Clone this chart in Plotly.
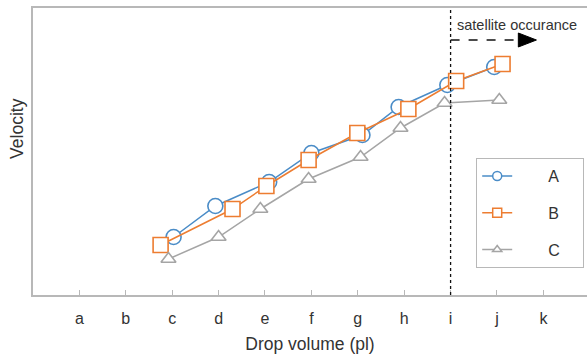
import plotly.graph_objects as go

# ---- data ----
tick_labels = ["a", "b", "c", "d", "e", "f", "g", "h", "i", "j", "k"]
tick_pos = list(range(len(tick_labels)))

a_x = [2.03, 2.93, 4.09, 5.00, 6.10, 6.88, 7.93, 8.94]
a_y = [58, 89, 113, 142, 160, 188, 210, 228]

b_x = [1.75, 3.30, 4.03, 4.94, 5.99, 7.09, 8.12, 9.12]
b_y = [50, 86, 109, 135, 162, 186, 214, 231]

c_x = [1.92, 3.00, 3.90, 4.94, 6.06, 6.92, 7.87, 9.05]
c_y = [36, 58, 86, 116, 138, 167, 192, 195]

satellite_x = 8          # category "i"
arrow_end_x = 9.46
arrow_tip_x = 9.85
arrow_y = 255
y_max = 287

BLUE = "#4A8CC7"
ORANGE = "#ED7D31"
GRAY = "#A5A5A5"
FRAME = "#B8B8B8"
TXT = "#333333"
FONT = "Liberation Sans, Arial, sans-serif"

fig = go.Figure()
series = [
    ("A", a_x, a_y, BLUE, "circle", 15, 9),
    ("B", b_x, b_y, ORANGE, "square", 15, 9),
    ("C", c_x, c_y, GRAY, "triangle-up", 13, 8),
]
NB = "\u00a0"
for name, xs, ys, col, sym, sz, lsz in series:
    fig.add_trace(go.Scatter(
        x=xs, y=ys, name=name, mode="lines+markers",
        legendgroup=name, showlegend=False,
        line=dict(color=col, width=1.5),
        marker=dict(symbol=sym, size=sz, color="white",
                    line=dict(color=col, width=1.6)),
    ))
    # legend entry with small marker (no visible data)
    fig.add_trace(go.Scatter(
        x=[None], y=[None], name=NB * 7 + name + NB * 4, mode="lines+markers",
        legendgroup=name, showlegend=True,
        line=dict(color=col, width=1.5),
        marker=dict(symbol=sym, size=lsz, color="white",
                    line=dict(color=col, width=1.5)),
    ))

# vertical dotted threshold line
fig.add_shape(type="line", xref="x", yref="paper",
              x0=satellite_x, x1=satellite_x, y0=0, y1=1,
              line=dict(color="#111111", width=1.3, dash="dot"))
# dashed arrow shaft
fig.add_shape(type="line", xref="x", yref="y",
              x0=satellite_x, x1=arrow_end_x, y0=arrow_y, y1=arrow_y,
              line=dict(color="#111111", width=1.6, dash="dash"))
# arrow head
fig.add_shape(type="path", xref="x", yref="y",
              path=f"M {arrow_end_x},{arrow_y - 7} L {arrow_tip_x},{arrow_y} "
                   f"L {arrow_end_x},{arrow_y + 7} Z",
              fillcolor="#000000", line=dict(color="#000000", width=1))

fig.add_annotation(x=9.44, y=arrow_y + 15,
                   xref="x", yref="y", text="satellite occurance",
                   showarrow=False, xanchor="center", yanchor="middle",
                   font=dict(size=14.5, color=TXT, family=FONT))

fig.add_annotation(x=-0.029, y=0.582, xref="paper", yref="paper",
                   text="Velocity", textangle=-90, showarrow=False,
                   xanchor="center", yanchor="middle",
                   font=dict(size=17.5, color=TXT, family=FONT))

fig.update_layout(
    width=587, height=358,
    margin=dict(l=33, r=0, t=8, b=63),
    plot_bgcolor="white", paper_bgcolor="white",
    font=dict(family=FONT, color=TXT),
    showlegend=True,
    legend=dict(x=0.80, y=0.477, xanchor="left", yanchor="top",
                bgcolor="white", bordercolor=FRAME, borderwidth=1,
                font=dict(size=16, color=TXT, family=FONT),
                tracegroupgap=13, traceorder="grouped"),
    xaxis=dict(
        range=[-1, 10.94], tickmode="array", tickvals=tick_pos,
        ticktext=tick_labels, ticks="inside", ticklen=5, tickcolor=FRAME,
        ticklabelstandoff=8,
        showline=True, linecolor=FRAME, linewidth=1.5, mirror=True,
        showgrid=False, zeroline=False,
        tickfont=dict(size=16, color=TXT, family=FONT),
        title=dict(text="Drop volume (pl)", standoff=12,
                   font=dict(size=17.5, color=TXT, family=FONT)),
    ),
    yaxis=dict(
        range=[0, y_max], showticklabels=False, ticks="",
        showline=True, linecolor=FRAME, linewidth=1.5,
        showgrid=False, zeroline=False,
    ),
)

fig.write_html("out.html")
